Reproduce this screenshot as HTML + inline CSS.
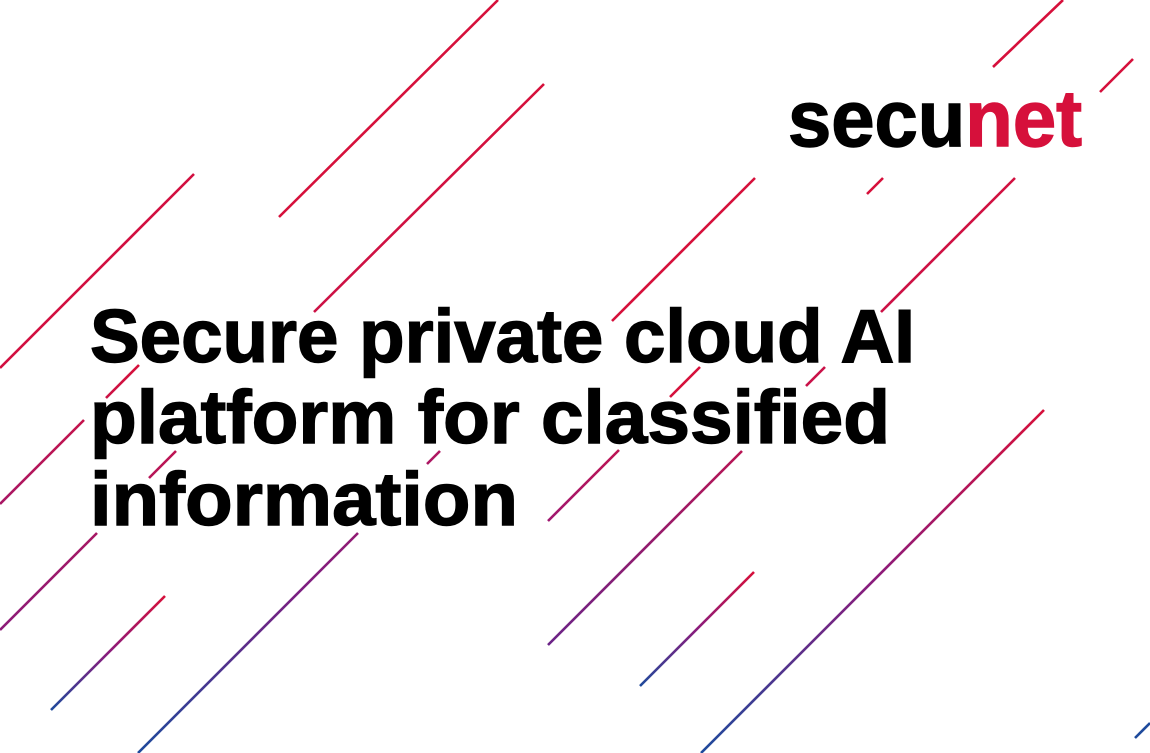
<!DOCTYPE html>
<html><head><meta charset="utf-8"><style>
html,body{margin:0;padding:0;background:#fff;width:1150px;height:753px;overflow:hidden}
svg{display:block}
</style></head><body>
<svg width="1150" height="753" viewBox="0 0 1150 753" xmlns="http://www.w3.org/2000/svg">
<defs>
<linearGradient id="gC" gradientUnits="userSpaceOnUse" x1="0" y1="84" x2="0" y2="630"><stop offset="0" stop-color="#d6103b"/><stop offset="0.6" stop-color="#c8124a"/><stop offset="1" stop-color="#8c1c78"/></linearGradient>
<linearGradient id="gD" gradientUnits="userSpaceOnUse" x1="0" y1="365" x2="0" y2="505"><stop offset="0" stop-color="#d6103b"/><stop offset="1" stop-color="#a81765"/></linearGradient>
<linearGradient id="gE" gradientUnits="userSpaceOnUse" x1="0" y1="0" x2="0" y2="521"><stop offset="0" stop-color="#d6103b"/><stop offset="0.75" stop-color="#d6103b"/><stop offset="1" stop-color="#a01870"/></linearGradient>
<linearGradient id="gF" gradientUnits="userSpaceOnUse" x1="0" y1="59" x2="0" y2="646"><stop offset="0" stop-color="#d6103b"/><stop offset="0.6" stop-color="#c8124a"/><stop offset="1" stop-color="#6a2488"/></linearGradient>
<linearGradient id="g891" gradientUnits="userSpaceOnUse" x1="0" y1="451" x2="0" y2="753"><stop offset="0" stop-color="#b01660"/><stop offset="0.45" stop-color="#7e1e80"/><stop offset="1" stop-color="#1e4a9c"/></linearGradient>
<linearGradient id="g9" gradientUnits="userSpaceOnUse" x1="0" y1="596" x2="0" y2="710"><stop offset="0" stop-color="#d6103b"/><stop offset="0.5" stop-color="#8a1c7c"/><stop offset="1" stop-color="#1e4a9c"/></linearGradient>
<linearGradient id="g10" gradientUnits="userSpaceOnUse" x1="0" y1="410" x2="0" y2="753"><stop offset="0" stop-color="#d6103b"/><stop offset="0.5" stop-color="#8a1c7c"/><stop offset="1" stop-color="#1e4a9c"/></linearGradient>
<linearGradient id="g11" gradientUnits="userSpaceOnUse" x1="0" y1="572" x2="0" y2="686"><stop offset="0" stop-color="#d6103b"/><stop offset="0.5" stop-color="#8a1c7c"/><stop offset="1" stop-color="#1e4a9c"/></linearGradient>
</defs>
<g stroke-width="2.6" fill="none" stroke-linecap="butt">
<line x1="194" y1="174" x2="0" y2="368" stroke="#d20f40"/>
<line x1="498" y1="0" x2="279" y2="217" stroke="#d6103b"/>
<path d="M544 84 L314 312 M176 451 L149 478 M97 533 L0 630" stroke="url(#gC)"/>
<path d="M139 365 L106 398 M84 420 L0 504" stroke="url(#gD)"/>
<path d="M1063 0 L993 67 M883 178 L867 194 M700 367 L670 397 M619 450 L548 521" stroke="url(#gE)"/>
<path d="M1133 59 L1100 92 M1015 178 L881 312 M825 367 L806 386 M742 451 L548 645" stroke="url(#gF)"/>
<line x1="755" y1="178" x2="612" y2="321" stroke="#d6103b"/>
<path d="M440 451 L427 464 M358 533 L138 753" stroke="url(#g891)"/>
<line x1="165" y1="596" x2="51" y2="710" stroke="url(#g9)"/>
<line x1="1044" y1="410" x2="701" y2="753" stroke="url(#g10)"/>
<line x1="754" y1="572" x2="640" y2="686" stroke="url(#g11)"/>
<line x1="1150" y1="723" x2="1135" y2="738" stroke="#1e4a9c"/>
</g>
<g font-family="Liberation Sans, sans-serif" font-weight="bold" fill="#000" stroke="#000" stroke-width="1.4">
<text x="90" y="362" font-size="75" textLength="825" lengthAdjust="spacingAndGlyphs">Secure private cloud AI</text>
<text x="90" y="443" font-size="75" textLength="800" lengthAdjust="spacingAndGlyphs">platform for classified</text>
<text x="90" y="525" font-size="75" textLength="428" lengthAdjust="spacingAndGlyphs">information</text>
<text x="788" y="146" font-size="80" textLength="294" lengthAdjust="spacingAndGlyphs">secu<tspan fill="#d6103b" stroke="#d6103b">net</tspan></text>
</g>
</svg>
</body></html>
